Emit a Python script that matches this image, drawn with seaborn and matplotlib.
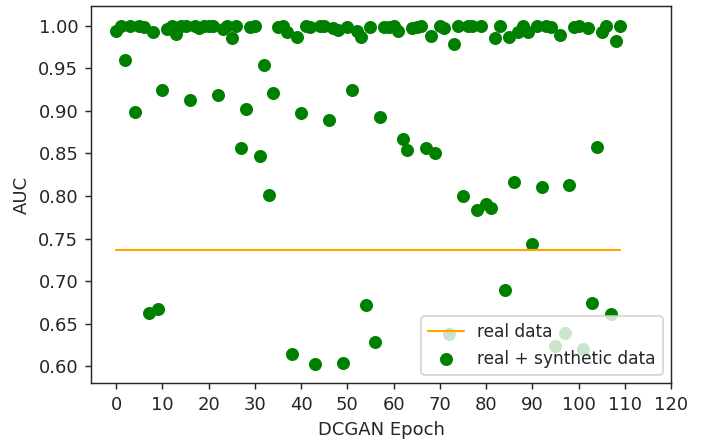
import numpy as np
import pandas as pd
import matplotlib
matplotlib.use("Agg")
import matplotlib.pyplot as plt
import seaborn as sns

epochs = list(range(110))
real_auc = [0.736] * 110
synthetic_auc = [
    0.994, 1.000, 0.960, 1.000, 0.899, 1.000, 0.999, 0.662, 0.993, 0.667,
    0.925, 0.996, 1.000, 0.990, 1.000, 1.000, 0.913, 1.000, 0.997, 1.000,
    1.000, 1.000, 0.919, 0.996, 1.000, 0.986, 1.000, 0.856, 0.902, 0.998,
    1.000, 0.847, 0.954, 0.801, 0.921, 0.998, 1.000, 0.993, 0.614, 0.987,
    0.897, 1.000, 0.999, 0.603, 1.000, 1.000, 0.889, 0.997, 0.995, 0.604,
    0.998, 0.925, 0.994, 0.987, 0.672, 0.998, 0.629, 0.893, 0.999, 0.998,
    1.000, 0.994, 0.867, 0.854, 0.997, 0.999, 1.000, 0.856, 0.988, 0.851,
    1.000, 0.997, 0.638, 0.978, 1.000, 0.800, 1.000, 1.000, 0.783, 1.000,
    0.790, 0.786, 0.985, 1.000, 0.690, 0.987, 0.816, 0.993, 1.000, 0.993,
    0.743, 1.000, 0.810, 1.000, 0.998, 0.624, 0.989, 0.639, 0.813, 0.998,
    1.000, 0.620, 0.997, 0.674, 0.857, 0.993, 1.000, 0.661, 0.982, 1.000,
]
xticks = list(range(0, 121, 10))
yticks = [0.60, 0.65, 0.70, 0.75, 0.80, 0.85, 0.90, 0.95, 1.00]

sns.set_style("ticks")
plt.rcParams['font.family'] = ['DejaVu Sans']

df = pd.DataFrame({"epoch": epochs, "real": real_auc, "synth": synthetic_auc})

DPI = 130
fig = plt.figure(figsize=(709 / DPI, 439 / DPI), dpi=DPI)
ax = fig.add_axes([91/709, 1 - 383/439, (671 - 91)/709, (383 - 6)/439])

sns.lineplot(data=df, x="epoch", y="real", color="orange", linewidth=1.2,
             label="real data", ax=ax)
sns.scatterplot(data=df, x="epoch", y="synth", color="green", s=52,
                linewidth=0, label="real + synthetic data", ax=ax)

ax.set_xticks(xticks)
ax.set_yticks(yticks)
ax.set_xlim(-5.45, 120)
ax.set_ylim(0.5803, 1.0231)
ax.set_xlabel("DCGAN Epoch")
ax.set_ylabel("AUC")
ax.legend(loc="lower right", fontsize=9.4, handlelength=2.1)

fig.savefig("out.png", dpi=DPI)
